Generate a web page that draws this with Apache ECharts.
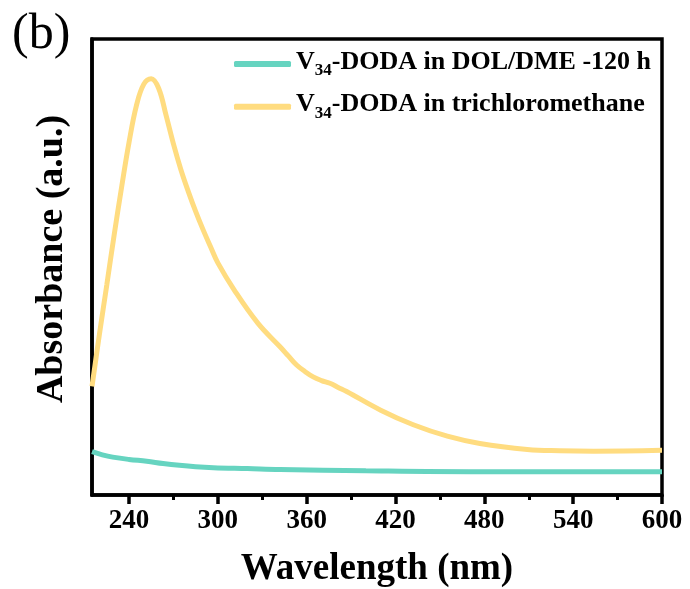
<!DOCTYPE html>
<html>
<head>
<meta charset="utf-8">
<script src="https://cdn.jsdelivr.net/npm/echarts@6/dist/echarts.min.js"></script>
<style>html,body{margin:0;padding:0;background:#fff}#c{width:690px;height:589px}</style>
</head>
<body>
<div id="c"></div>
<script>
// Wavelength (nm) and absorbance (a.u.)
const yellowX = [215, 220, 225, 230, 235, 240, 245, 250, 255, 260, 265, 270, 275, 280, 285, 290, 295, 300, 311, 327, 342, 347.6, 353.2, 358.8, 364.4, 370, 375.7, 381.3, 387, 410, 432, 455, 477, 509, 531, 554, 600];
const yellowY = [0.238, 0.352, 0.461, 0.571, 0.675, 0.773, 0.854, 0.901, 0.913, 0.892, 0.833, 0.770, 0.714, 0.666, 0.622, 0.582, 0.545, 0.509, 0.450, 0.377, 0.325, 0.305, 0.285, 0.271, 0.259, 0.251, 0.245, 0.236, 0.227, 0.186, 0.154, 0.129, 0.113, 0.100, 0.097, 0.096, 0.098];
const tealX = [215, 222, 229, 240, 252, 263, 274, 285, 297, 320, 342, 400, 477, 600];
const tealY = [0.095, 0.088, 0.083, 0.078, 0.074, 0.069, 0.065, 0.062, 0.060, 0.058, 0.056, 0.053, 0.051, 0.051];
const seriesNames = ['V34-DODA in DOL/DME -120 h', 'V34-DODA in trichloromethane'];
const majorTicks = [240, 300, 360, 420, 480, 540, 600];
const minorTicks = [270, 330, 390, 450, 510, 570];

const font = '"Liberation Serif", "Times New Roman", serif';
const pair = (xs, ys) => xs.map((x, i) => [x, ys[i]]);

const chart = echarts.init(document.getElementById('c'), null, {renderer: 'canvas'});
chart.setOption({
  animation: false,
  backgroundColor: '#fff',
  grid: {left: 92, right: 28, top: 39, bottom: 94, show: true, borderColor: '#000', borderWidth: 3.5,
         backgroundColor: 'transparent', containLabel: false, outerBoundsMode: 'none'},
  xAxis: [{
    type: 'value', min: 215, max: 600,
    name: 'Wavelength (nm)', nameLocation: 'middle', nameGap: 56,
    nameTextStyle: {fontFamily: font, fontWeight: 'bold', fontSize: 37, color: '#000'},
    axisLine: {show: true, onZero: false, lineStyle: {color: '#000', width: 3.5}},
    axisTick: {show: true, inside: false, length: 9, lineStyle: {color: '#000', width: 3.5}, customValues: majorTicks},
    axisLabel: {show: true, margin: 13, fontFamily: font, fontWeight: 'bold', fontSize: 27, color: '#000', customValues: majorTicks},
    splitLine: {show: false}
  }, {
    type: 'value', min: 215, max: 600, position: 'bottom', gridIndex: 0,
    axisLine: {show: false},
    axisTick: {show: true, inside: false, length: 5, lineStyle: {color: '#000', width: 3}, customValues: minorTicks},
    axisLabel: {show: false, customValues: minorTicks},
    splitLine: {show: false}
  }],
  yAxis: {
    type: 'value', min: 0, max: 1,
    axisLine: {show: true, lineStyle: {color: '#000', width: 3.5}},
    axisTick: {show: false}, axisLabel: {show: false}, splitLine: {show: false}
  },
  legend: {
    orient: 'vertical', left: 229, top: 44, itemGap: 12.7, itemTextGap: 5,
    icon: 'roundRect', itemWidth: 57, itemHeight: 6,
    data: seriesNames,
    formatter: n => '{n|V}{s|34}{n|' + n.slice(3) + '}',
    textStyle: {
      fontFamily: font, fontWeight: 'bold', fontSize: 26, color: '#000',
      rich: {
        n: {fontFamily: font, fontWeight: 'bold', fontSize: 26, lineHeight: 30, verticalAlign: 'top', color: '#000'},
        s: {fontFamily: font, fontWeight: 'bold', fontSize: 17, lineHeight: 17, verticalAlign: 'bottom', color: '#000'}
      }
    }
  },
  graphic: [
    {type: 'text', left: 12, top: 10, style: {text: '(b)', font: '50px ' + font, fill: '#000'}},
    {type: 'text', x: 52, y: 259, rotation: Math.PI / 2,
     style: {text: 'Absorbance (a.u.)', font: 'bold 38px ' + font, fill: '#000', align: 'center', verticalAlign: 'middle'}}
  ],
  series: [
    {name: seriesNames[0], type: 'line', smooth: 0.4, showSymbol: false, data: pair(tealX, tealY),
     lineStyle: {color: '#66D4C0', width: 5}, itemStyle: {color: '#66D4C0'}},
    {name: seriesNames[1], type: 'line', smooth: 0.4, showSymbol: false, data: pair(yellowX, yellowY),
     lineStyle: {color: '#FFDC80', width: 5}, itemStyle: {color: '#FFDC80'}}
  ]
});
</script>
</body>
</html>
